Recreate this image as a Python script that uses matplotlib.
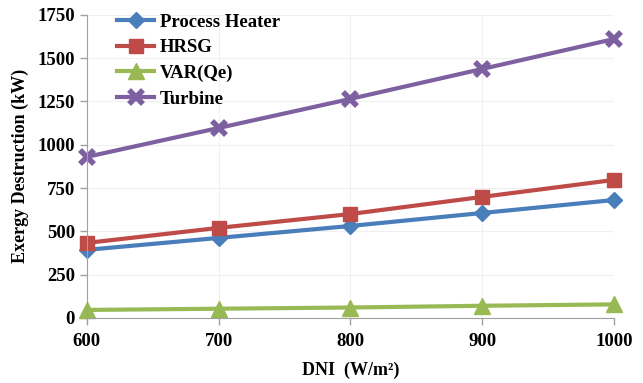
import matplotlib.pyplot as plt

plt.rcParams['font.family'] = ['Liberation Serif', 'DejaVu Serif']
plt.rcParams['font.weight'] = 'bold'

dni = [600, 700, 800, 900, 1000]
process_heater = [393, 462, 531, 606, 681]
hrsg = [433, 520, 600, 699, 797]
var_qe = [46, 53, 60, 70, 78]
turbine = [930, 1097, 1265, 1438, 1611]

fig = plt.figure(figsize=(6.43, 3.83), dpi=100)
ax = fig.add_axes([0.135, 0.17, 0.82, 0.791])

ax.plot(dni, process_heater, color='#4a7ebb', marker='D', markersize=8, lw=3, label='Process Heater')
ax.plot(dni, hrsg, color='#be4b48', marker='s', markersize=10, lw=3, label='HRSG')
ax.plot(dni, var_qe, color='#98b954', marker='^', markersize=11, lw=3, label='VAR(Qe)')
ax.plot(dni, turbine, color='#7d60a0', marker='x', markersize=10, mew=4, lw=3, label='Turbine')

ax.set_xlim(600, 1000)
ax.set_ylim(0, 1750)
ax.set_xticks(dni)
ax.set_yticks(range(0, 1751, 250))
ax.grid(color='#f0f0f0', lw=0.8)
ax.set_axisbelow(True)
for s in ['top', 'right']:
    ax.spines[s].set_visible(False)
for s in ['left', 'bottom']:
    ax.spines[s].set_color('#a0a0a0')
ax.tick_params(colors='#a0a0a0', labelcolor='black', labelsize=13.5, length=5, width=1)
ax.tick_params(axis='x', pad=6)
for lbl in ax.get_xticklabels() + ax.get_yticklabels():
    lbl.set_fontweight('bold')
for line in ax.get_lines():
    line.set_clip_on(False)

ax.set_xlabel('DNI  (W/m²)', fontsize=13, fontweight='bold', labelpad=8)
ax.set_ylabel('Exergy Destruction (kW)', fontsize=13, fontweight='bold', labelpad=6)

ax.legend(loc='upper left', bbox_to_anchor=(0.025, 1.06), frameon=False,
          prop={'size': 13.5, 'weight': 'bold'}, handlelength=2.0,
          handletextpad=0.3, labelspacing=0.45)

fig.savefig('out.png', dpi=100)
